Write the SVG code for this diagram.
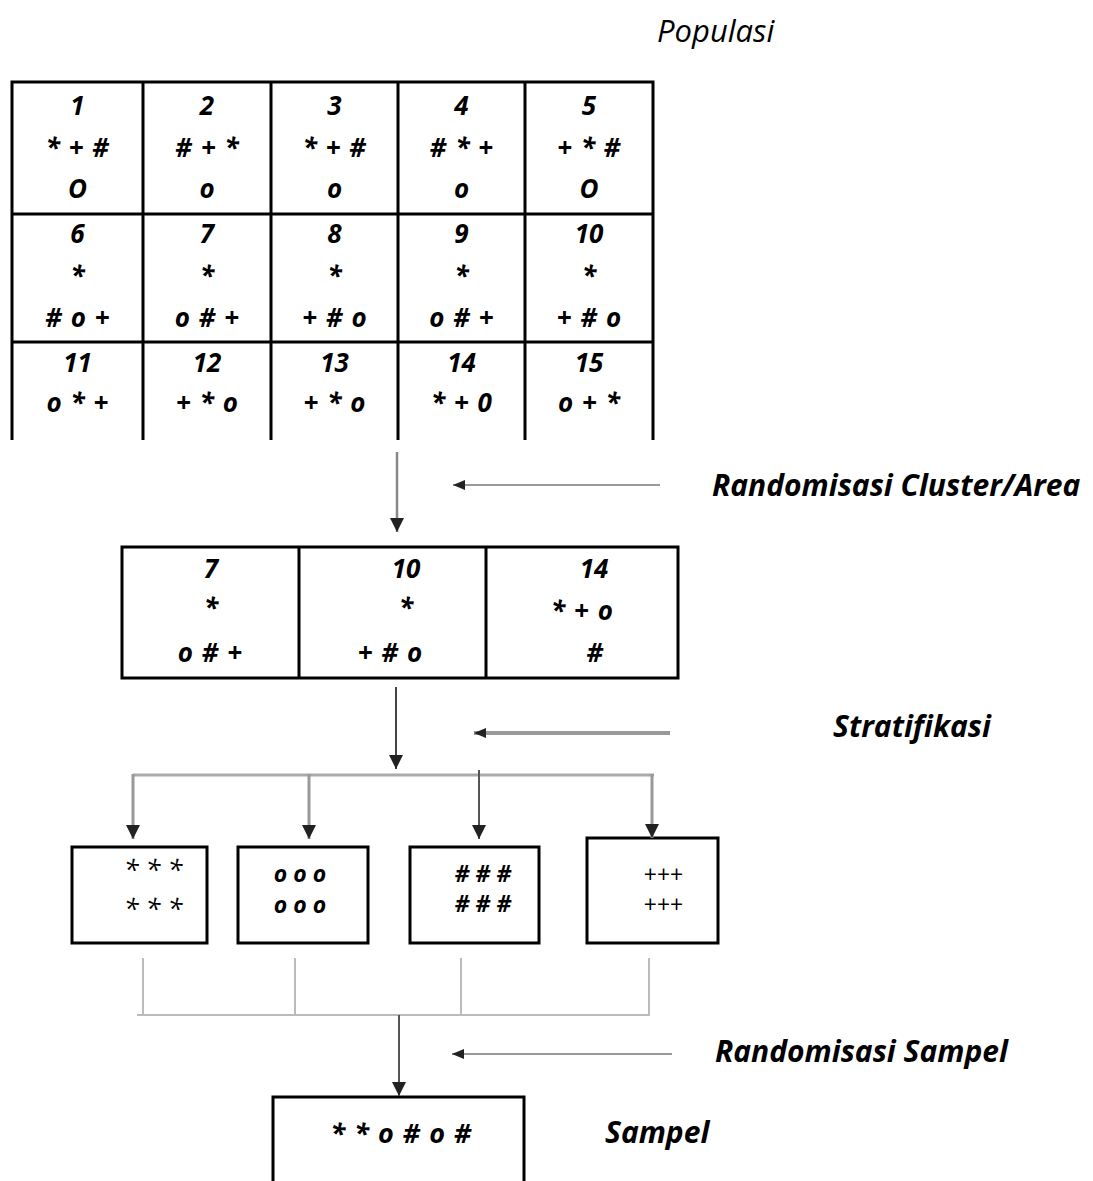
<svg xmlns="http://www.w3.org/2000/svg" width="1093" height="1181" viewBox="0 0 1093 1181">
<style>
.t{font-family:"Open Sans","Noto Sans",Lato,sans-serif;font-style:italic;font-weight:bold;fill:#000}
.c{text-anchor:middle;font-size:26px;word-spacing:2px}
.s{text-anchor:middle;font-size:23px}
.r{font-weight:normal}
.lbl{font-size:30px}
.pop{font-size:31px;font-weight:normal}
.box{fill:#fff;stroke:#000;stroke-width:3}
.grid{stroke:#000;stroke-width:3;fill:none}
.gl{fill:none;stroke:#bbb;stroke-width:2}
</style>
<defs>
<marker id="hv" markerUnits="userSpaceOnUse" markerWidth="16" markerHeight="16" refX="14" refY="7" orient="auto">
<path d="M0,0 L14,7 L0,14 z" fill="#222"/>
</marker>
<marker id="hh" markerUnits="userSpaceOnUse" markerWidth="14" markerHeight="14" refX="12" refY="5" orient="auto">
<path d="M0,0 L12,5 L0,10 z" fill="#222"/>
</marker>
</defs>

<g id="label-populasi"><text class="t pop" x="657" y="42">Populasi</text></g>

<g id="populasi-table">
<path class="grid" d="M12,82 H653 M12,214 H653 M12,342 H653 M12,80.5 V440 M143,82 V440 M271,82 V440 M398,82 V440 M525,82 V440 M653,80.5 V440"/>
<g class="t c">
<text x="77.5" y="115">1</text><text x="77.5" y="157">* + #</text><text x="77.5" y="198">O</text>
<text x="207" y="115">2</text><text x="207" y="157"># + *</text><text x="207" y="198">o</text>
<text x="334.5" y="115">3</text><text x="334.5" y="157">* + #</text><text x="334.5" y="198">o</text>
<text x="461.5" y="115">4</text><text x="461.5" y="157"># * +</text><text x="461.5" y="198">o</text>
<text x="589" y="115">5</text><text x="589" y="157">+ * #</text><text x="589" y="198">O</text>
<text x="77.5" y="243">6</text><text x="77.5" y="285">*</text><text x="77.5" y="327"># o +</text>
<text x="207" y="243">7</text><text x="207" y="285">*</text><text x="207" y="327">o # +</text>
<text x="334.5" y="243">8</text><text x="334.5" y="285">*</text><text x="334.5" y="327">+ # o</text>
<text x="461.5" y="243">9</text><text x="461.5" y="285">*</text><text x="461.5" y="327">o # +</text>
<text x="589" y="243">10</text><text x="589" y="285">*</text><text x="589" y="327">+ # o</text>
<text x="77.5" y="372">11</text><text x="77.5" y="412">o * +</text>
<text x="207" y="372">12</text><text x="207" y="412">+ * o</text>
<text x="334.5" y="372">13</text><text x="334.5" y="412">+ * o</text>
<text x="461.5" y="372">14</text><text x="461.5" y="412">* + 0</text>
<text x="589" y="372">15</text><text x="589" y="412">o + *</text>
</g>
</g>

<g id="label-cluster"><text class="t lbl" x="712" y="496">Randomisasi Cluster/Area</text></g>

<g id="cluster-box">
<rect class="box" x="122" y="547" width="556" height="131"/>
<path class="grid" d="M299,547 V678 M486,547 V678"/>
<g class="t c">
<text x="211" y="578">7</text><text x="211" y="617">*</text><text x="210" y="662">o # +</text>
<text x="406" y="578">10</text><text x="406" y="617">*</text><text x="390" y="662">+ # o</text>
<text x="594" y="578">14</text><text x="582" y="620">* + o</text><text x="595" y="662">#</text>
</g>
</g>

<g id="label-stratifikasi"><text class="t lbl" x="833" y="737">Stratifikasi</text></g>

<g id="stratum-star"><rect class="box" x="72" y="847" width="135" height="96"/>
<text class="t s r" x="153" y="880" style="font-size:27px">* * *</text><text class="t s r" x="153" y="919" style="font-size:27px">* * *</text></g>
<g id="stratum-o"><rect class="box" x="238" y="847" width="130" height="96"/>
<text class="t s" x="300" y="882">o o o</text><text class="t s" x="300" y="913">o o o</text></g>
<g id="stratum-hash"><rect class="box" x="410" y="847" width="129" height="96"/>
<text class="t s" x="483" y="882"># # #</text><text class="t s" x="483" y="912"># # #</text></g>
<g id="stratum-plus"><rect class="box" x="587" y="838" width="131" height="105"/>
<text class="t s r" x="663" y="883">+++</text><text class="t s r" x="663" y="913">+++</text></g>

<g id="label-sampel-random"><text class="t lbl" x="715" y="1062">Randomisasi Sampel</text></g>

<g id="sample-box"><rect class="box" x="273" y="1097" width="251" height="100"/>
<text class="t c" x="401" y="1143" style="font-size:27px">* * o # o #</text></g>
<g id="label-sampel"><text class="t lbl" x="605" y="1143">Sampel</text></g>

<g id="connectors">
<line x1="397" y1="452" x2="397" y2="532" stroke="#888" stroke-width="2.5" marker-end="url(#hv)"/>
<line x1="660" y1="485" x2="453" y2="485" stroke="#999" stroke-width="2" marker-end="url(#hh)"/>
<line x1="396" y1="687" x2="396" y2="769" stroke="#444" stroke-width="2" marker-end="url(#hv)"/>
<line x1="670" y1="733" x2="474" y2="733" stroke="#999" stroke-width="4" marker-end="url(#hh)"/>
<path d="M133,775 H654" stroke="#aaa" stroke-width="3" fill="none"/>
<line x1="133" y1="774" x2="133" y2="839" stroke="#999" stroke-width="3" marker-end="url(#hv)"/>
<line x1="309" y1="774" x2="309" y2="839" stroke="#999" stroke-width="3" marker-end="url(#hv)"/>
<line x1="479" y1="770" x2="479" y2="839" stroke="#555" stroke-width="2" marker-end="url(#hv)"/>
<line x1="652" y1="774" x2="652" y2="838" stroke="#999" stroke-width="3" marker-end="url(#hv)"/>
<path class="gl" d="M143,958 V1015 M295,958 V1015 M461,958 V1015 M649,958 V1015 M137,1015 H650"/>
<line x1="399" y1="1015" x2="399" y2="1096" stroke="#555" stroke-width="2" marker-end="url(#hv)"/>
<line x1="672" y1="1054" x2="452" y2="1054" stroke="#999" stroke-width="2" marker-end="url(#hh)"/>
</g>
</svg>
